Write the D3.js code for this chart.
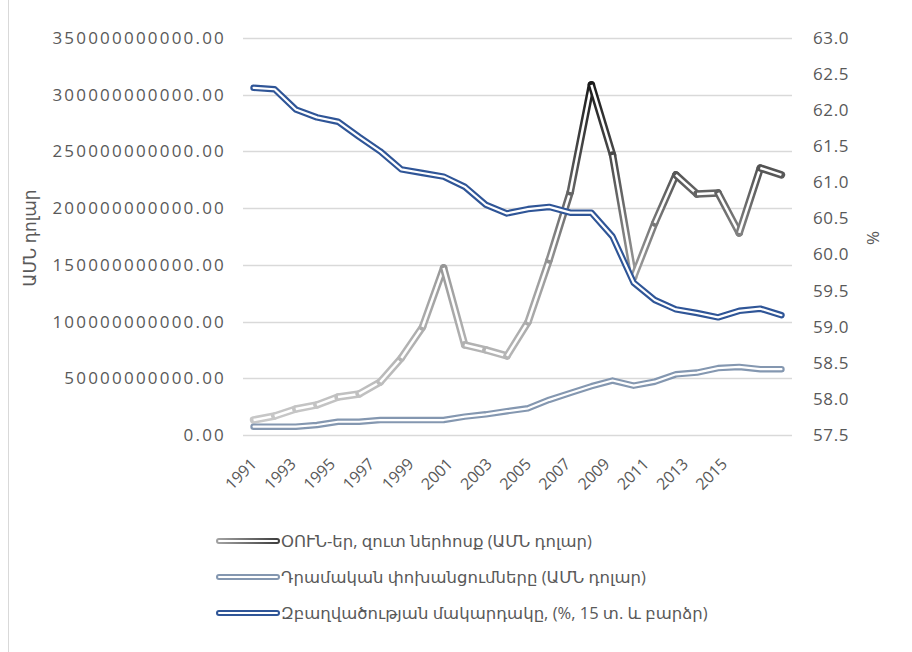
<!DOCTYPE html>
<html>
<head>
<meta charset="utf-8">
<script src="https://cdn.jsdelivr.net/npm/d3@7"></script>
<style>
  html, body { margin: 0; padding: 0; background: #fff; }
  svg { display: block; }
  text { font-family: "Open Sans", "DejaVu Sans", sans-serif; fill: #595959; }
</style>
</head>
<body>
<div id="chart"></div>
<script>
// data
var years = ["1991","1992","1993","1994","1995","1996","1997","1998","1999","2000",
             "2001","2002","2003","2004","2005","2006","2007","2008","2009","2010",
             "2011","2012","2013","2014","2015","2016"];

// FDI, net inflows (USD)
var fdi = [1.32e10, 1.68e10, 2.29e10, 2.65e10, 3.35e10, 3.62e10, 4.67e10, 6.79e10, 9.52e10, 14.73e10,
           7.94e10, 7.50e10, 6.97e10, 9.96e10, 15.43e10, 21.43e10, 30.86e10, 24.69e10, 13.93e10, 18.69e10,
           22.93e10, 21.25e10, 21.34e10, 17.81e10, 23.54e10, 22.93e10];

// personal remittances (USD)
var remit = [0.73e10, 0.73e10, 0.73e10, 0.88e10, 1.17e10, 1.17e10, 1.32e10, 1.32e10, 1.32e10, 1.32e10,
             1.62e10, 1.82e10, 2.10e10, 2.35e10, 3.10e10, 3.70e10, 4.30e10, 4.80e10, 4.35e10, 4.70e10,
             5.35e10, 5.50e10, 5.90e10, 6.00e10, 5.80e10, 5.80e10];

// employment rate (%, 15+)
var employ = [62.31, 62.29, 62.01, 61.90, 61.84, 61.63, 61.43, 61.18, 61.13, 61.08,
              60.94, 60.69, 60.57, 60.63, 60.66, 60.58, 60.58, 60.25, 59.61, 59.37,
              59.24, 59.19, 59.13, 59.22, 59.25, 59.16];

var leftTicks = [0, 5e10, 10e10, 15e10, 20e10, 25e10, 30e10, 35e10];
var rightTicks = [57.5, 58.0, 58.5, 59.0, 59.5, 60.0, 60.5, 61.0, 61.5, 62.0, 62.5, 63.0];
var xLabels = ["1991","1993","1995","1997","1999","2001","2003","2005","2007","2009","2011","2013","2015"];
var axisSlots = 28; // the category axis under the labels has 28 slots

var legendNames = [
  "ՕՈՒՆ-եր, զուտ ներհոսք (ԱՄՆ դոլար)",
  "Դրամական փոխանցումները (ԱՄՆ դոլար)",
  "Զբաղվածության մակարդակը, (%, 15 տ. և բարձր)"
];

var W = 912, H = 652;
var plot = {left: 243, right: 792, top: 38, bottom: 435};

var svg = d3.select("#chart").append("svg")
    .attr("width", W).attr("height", H);

// chart frame, only the left edge shows
svg.append("line")
    .attr("x1", 8.5).attr("x2", 8.5).attr("y1", 0).attr("y2", H)
    .attr("stroke", "#d9d9d9").attr("stroke-width", 1);

var x = d3.scaleBand().domain(years).range([plot.left, plot.right]);
var xc = function(d) { return x(d) + x.bandwidth() / 2; };
var xl = d3.scaleBand().domain(d3.range(axisSlots)).range([plot.left, plot.right]);
var yL = d3.scaleLinear().domain([0, 35e10]).range([plot.bottom, plot.top]);
var yR = d3.scaleLinear().domain([57.5, 63]).range([plot.bottom, plot.top]);

// gridlines
svg.append("g").selectAll("line").data(leftTicks).enter().append("line")
    .attr("x1", plot.left).attr("x2", plot.right)
    .attr("y1", function(d) { return Math.round(yL(d)) + 0.5; })
    .attr("y2", function(d) { return Math.round(yL(d)) + 0.5; })
    .attr("stroke", "#d9d9d9").attr("stroke-width", 1.3);

// left axis labels
svg.append("g").selectAll("text").data(leftTicks).enter().append("text")
    .attr("x", 226).attr("y", function(d) { return yL(d); })
    .attr("dy", "0.35em")
    .attr("text-anchor", "end")
    .style("font-size", "17px")
    .style("letter-spacing", "2.2px")
    .text(d3.format(".2f"));

// right axis labels
svg.append("g").selectAll("text").data(rightTicks).enter().append("text")
    .attr("x", 813).attr("y", function(d) { return yR(d); })
    .attr("dy", "0.35em")
    .style("font-size", "17px")
    .style("letter-spacing", "0.6px")
    .text(d3.format(".1f"));

// x labels, rotated
svg.append("g").selectAll("text").data(xLabels).enter().append("text")
    .attr("transform", function(d, i) {
        var cx = xl(i * 2) + xl.bandwidth() / 2;
        return "translate(" + (cx + 1) + ",461) rotate(-45)";
    })
    .attr("dy", "0.35em")
    .attr("text-anchor", "end")
    .style("font-size", "16px")
    .text(function(d) { return d; });

// axis titles
svg.append("text")
    .attr("transform", "translate(30,238) rotate(-90)")
    .attr("dy", "0.35em")
    .attr("text-anchor", "middle")
    .style("font-size", "17px")
    .text("ԱՄՆ դոլար");

svg.append("text")
    .attr("transform", "translate(873,238) rotate(90)")
    .attr("dy", "0.35em")
    .attr("text-anchor", "middle")
    .style("font-size", "17px")
    .text("%");

// gradient for the FDI line: light at low values, dark at the peak
var defs = svg.append("defs");
var grad = defs.append("linearGradient")
    .attr("id", "fdiGrad")
    .attr("gradientUnits", "userSpaceOnUse")
    .attr("x1", 0).attr("x2", 0)
    .attr("y1", yL(0)).attr("y2", yL(31e10));
grad.append("stop").attr("offset", 0).attr("stop-color", "#cccccc");
grad.append("stop").attr("offset", 0.44).attr("stop-color", "#9f9f9f");
grad.append("stop").attr("offset", 1).attr("stop-color", "#1a1a1a");

var legGrad = defs.append("linearGradient").attr("id", "legGrad");
legGrad.append("stop").attr("offset", 0).attr("stop-color", "#a0a0a0");
legGrad.append("stop").attr("offset", 1).attr("stop-color", "#404040");

// draw FDI segment by segment, so joints get a solid blob like the reference
var fdiG = svg.append("g");
for (i = 0; i < years.length - 1; i++) {
    var seg = d3.line()([[xc(years[i]), yL(fdi[i])], [xc(years[i+1]), yL(fdi[i+1])]]);
    fdiG.append("path").attr("d", seg)
        .attr("fill", "none").attr("stroke", "url(#fdiGrad)")
        .attr("stroke-width", 7.5).attr("stroke-linecap", "round");
    fdiG.append("path").attr("d", seg)
        .attr("fill", "none").attr("stroke", "#fff")
        .attr("stroke-width", 2.5).attr("stroke-linecap", "butt");
}

// double line helper
function doubleLine(values, yScale, color, outer, inner) {
    var line = d3.line()
        .x(function(d, i) { return xc(years[i]); })
        .y(function(d) { return yScale(d); });
    var g = svg.append("g");
    g.append("path").attr("d", line(values))
        .attr("fill", "none").attr("stroke", color)
        .attr("stroke-width", outer)
        .attr("stroke-linejoin", "round").attr("stroke-linecap", "round");
    g.append("path").attr("d", line(values))
        .attr("fill", "none").attr("stroke", "#fff")
        .attr("stroke-width", inner)
        .attr("stroke-linejoin", "round").attr("stroke-linecap", "round");
}

doubleLine(remit, yL, "#8497b0", 6.5, 2.2);
doubleLine(employ, yR, "#2f5597", 6.5, 2.2);

// legend
var legColors = ["url(#legGrad)", "#8497b0", "#2f5597"];
var leg = svg.append("g");
legendNames.forEach(function(name, i) {
    var ly = 541 + i * 36;
    leg.append("line")
        .attr("x1", 219).attr("x2", 277).attr("y1", ly).attr("y2", ly + 0.01)
        .attr("stroke", legColors[i]).attr("stroke-width", 6)
        .attr("stroke-linecap", "round");
    leg.append("line")
        .attr("x1", 219).attr("x2", 277).attr("y1", ly).attr("y2", ly)
        .attr("stroke", "#fff").attr("stroke-width", 2)
        .attr("stroke-linecap", "round");
    leg.append("text")
        .attr("x", 281).attr("y", ly)
        .attr("dy", "0.35em")
        .style("font-size", "16.5px")
        .text(name);
});
</script>
</body>
</html>
